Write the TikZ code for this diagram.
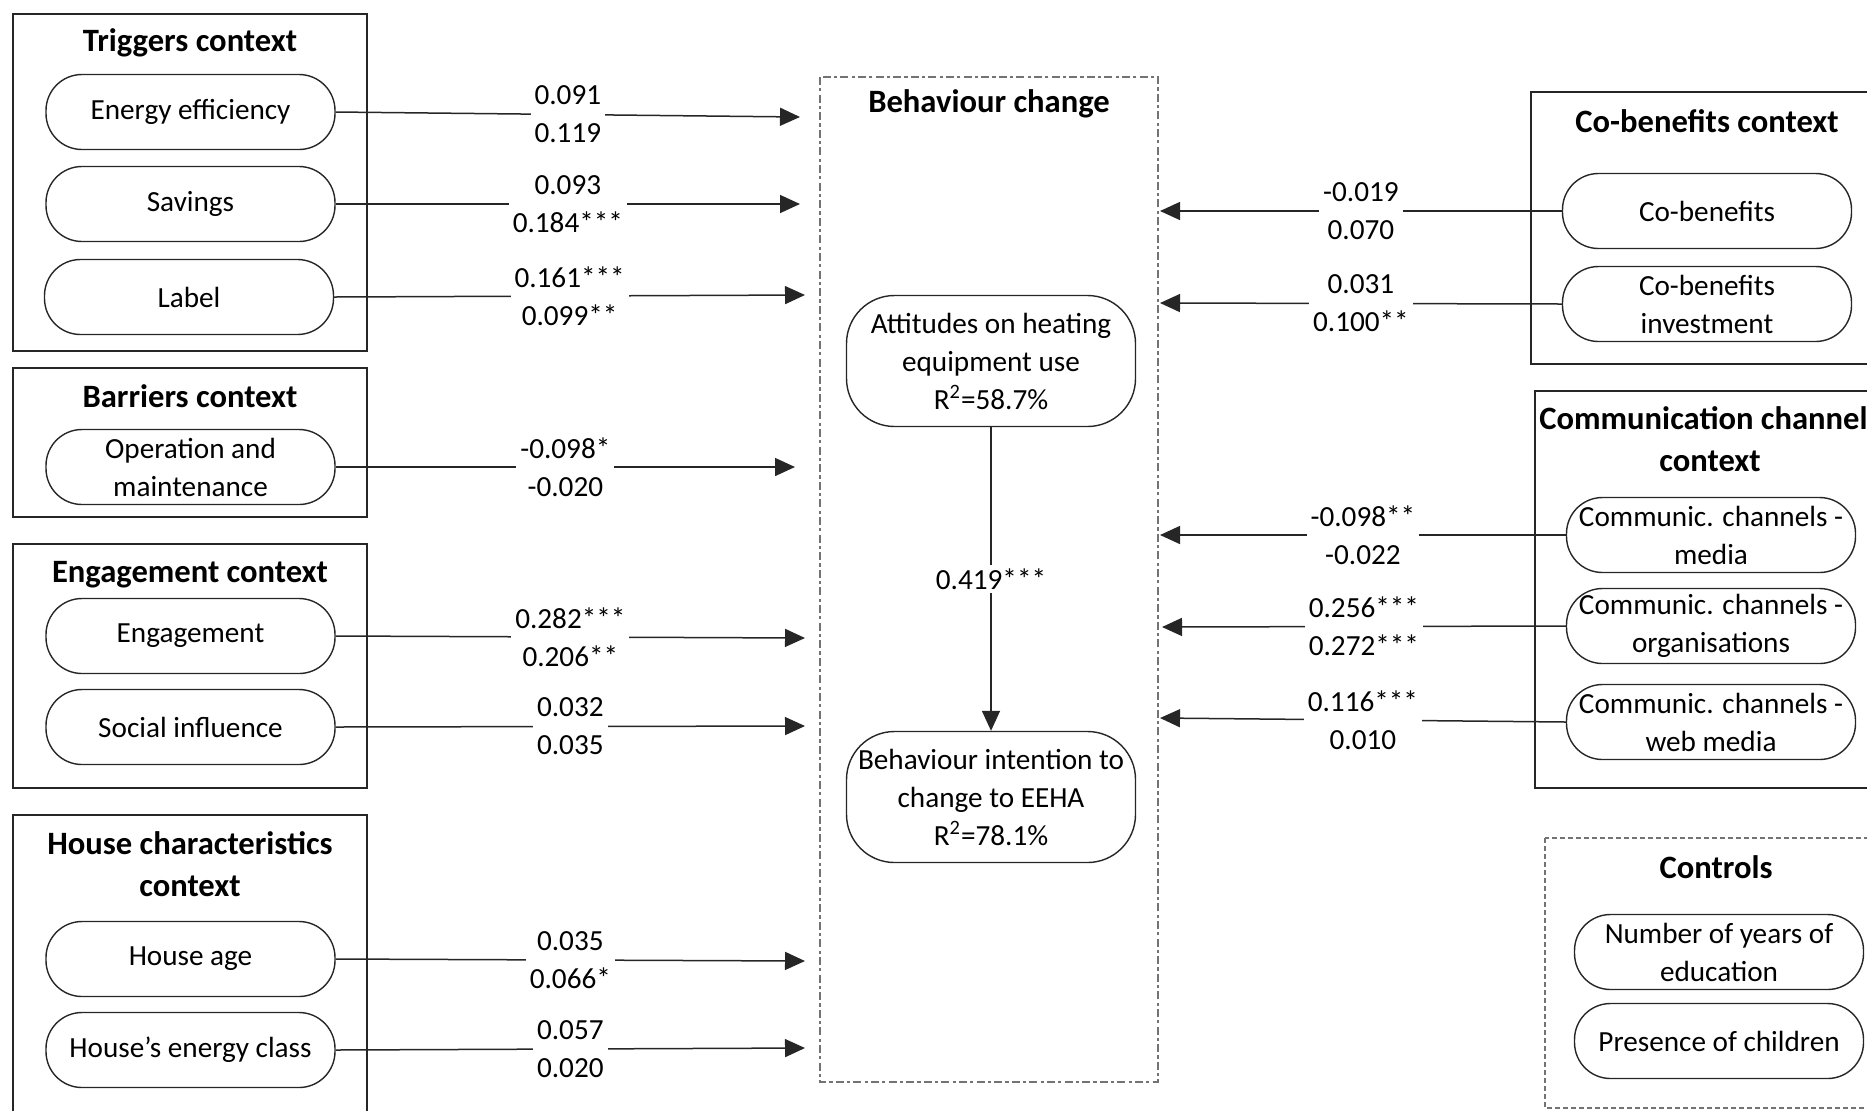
\documentclass[tikz,border=0pt]{standalone}
\usepackage{fontspec}
\setmainfont{Carlito}
\usetikzlibrary{arrows.meta}
\newcommand\myBody{\fontsize{14.6}{19}\selectfont}
\newcommand\myTitle{\fontsize{16.3}{21}\selectfont\bfseries}
\begin{document}
\begin{tikzpicture}[x=0.5pt,y=-0.5pt,
  ctxbox/.style={draw=black!85, line width=0.8pt},
  pill/.style={draw=black!85, line width=0.7pt, rounded corners=18pt,
    minimum width=144.5pt, minimum height=37.5pt, inner sep=0pt,
    align=center, font=\myBody},
  bigpill/.style={pill, rounded corners=24pt, minimum height=65.5pt},
  ttl/.style={font=\myTitle, align=center, inner sep=0pt},
  lbl/.style={fill=white, font=\myBody, align=center, inner xsep=2pt, inner ysep=0pt},
  arr/.style={draw=black!85, line width=0.75pt, -{Triangle[length=10pt,width=9pt]}},
]
\useasboundingbox (0,0) rectangle (1867,1110);
\clip (0,0) rectangle (1867,1110);

% ---------- left context boxes ----------
\draw[ctxbox] (13,14) rectangle (367,351);
\draw[ctxbox] (13,368) rectangle (367,517);
\draw[ctxbox] (13,544) rectangle (367,788);
\draw[ctxbox] (13,815) rectangle (367,1125);

\node[ttl] (t1) at (190,43) {Triggers context};
\node[ttl] (t2) at (190,396) {Barriers context};
\node[ttl] (t3) at (190,575) {Engagement context};
\node[ttl] (t4) at (190,864) {House characteristics\\context};

\node[pill] (ee)  at (190.5,112) {Energy efficiency};
\node[pill] (sav) at (190.5,204) {Savings};
\node[pill] (lab) at (189,297) {Label};
\node[pill] (op)  at (190.5,467) {Operation and\\maintenance};
\node[pill] (eng) at (190.5,636) {Engagement};
\node[pill] (soc) at (190.5,727) {Social influence};
\node[pill] (age) at (190.5,959) {House age};
\node[pill] (cls) at (190.5,1050) {House’s energy class};

% ---------- behaviour change ----------
\draw[draw=black!55, line width=0.6pt, dash pattern=on 4pt off 1.6pt on 1.6pt off 1.6pt]
  (820,77) rectangle (1158,1082);
\node[ttl] (t5) at (989,104) {Behaviour change};
\node[bigpill] (att) at (991,361) {Attitudes on heating\\equipment use\\R\textsuperscript{2}=58.7\%};
\node[bigpill] (bi)  at (991,797) {Behaviour intention to\\change to EEHA\\R\textsuperscript{2}=78.1\%};
\draw[arr] (att) -- node[lbl, inner ysep=2pt] {0.419***} (bi);

% ---------- right context boxes ----------
\draw[ctxbox] (1531,92) rectangle (1885,364);
\draw[ctxbox] (1535,391) rectangle (1885,788);
\draw[draw=black!55, line width=0.6pt, dash pattern=on 2.5pt off 1.5pt]
  (1545,838) rectangle (1885,1108);

\node[ttl] (t6) at (1707,121) {Co-benefits context};
\node[ttl] (t7) at (1710,439) {Communication channels\\context};
\node[ttl] (t8) at (1716,867) {Controls};

\node[pill] (cb)  at (1707,211) {Co-benefits};
\node[pill] (cbi) at (1707,304) {Co-benefits\\investment};
\node[pill] (med) at (1711,535) {Communic. channels -\\media};
\node[pill] (org) at (1711,626) {Communic. channels -\\organisations};
\node[pill] (web) at (1711,722) {Communic. channels -\\web media};
\node[pill] (edu) at (1719,952) {Number of years of\\education};
\node[pill] (chi) at (1719,1041) {Presence of children};

% ---------- arrow end points ----------
\coordinate (pEE)  at (800,117);
\coordinate (pSAV) at (800,204);
\coordinate (pLAB) at (805,295);
\coordinate (pOP)  at (795,467);
\coordinate (pENG) at (805,638);
\coordinate (pSOC) at (805,726);
\coordinate (pAGE) at (805,961);
\coordinate (pCLS) at (805,1048);

\coordinate (pCB)  at (1160,211);
\coordinate (pCBI) at (1160,303);
\coordinate (pMED) at (1160,535);
\coordinate (pORG) at (1162,627);
\coordinate (pWEB) at (1160,718);

% ---------- left arrows ----------
\draw[arr] (ee.east)  -- node[lbl] {0.091\\0.119} (pEE);
\draw[arr] (sav.east) -- node[lbl] {0.093\\0.184***} (pSAV);
\draw[arr] (lab.east) -- node[lbl] {0.161***\\0.099**} (pLAB);
\draw[arr] (op.east)  -- node[lbl] {-0.098*\\-0.020} (pOP);
\draw[arr] (eng.east) -- node[lbl] {0.282***\\0.206**} (pENG);
\draw[arr] (soc.east) -- node[lbl] {0.032\\0.035} (pSOC);
\draw[arr] (age.east) -- node[lbl] {0.035\\0.066*} (pAGE);
\draw[arr] (cls.east) -- node[lbl] {0.057\\0.020} (pCLS);

% ---------- right arrows ----------
\draw[arr] (cb.west)  -- node[lbl] {-0.019\\0.070} (pCB);
\draw[arr] (cbi.west) -- node[lbl] {0.031\\0.100**} (pCBI);
\draw[arr] (med.west) -- node[lbl] {-0.098**\\-0.022} (pMED);
\draw[arr] (org.west) -- node[lbl] {0.256***\\0.272***} (pORG);
\draw[arr] (web.west) -- node[lbl] {0.116***\\0.010} (pWEB);
\end{tikzpicture}
\end{document}
